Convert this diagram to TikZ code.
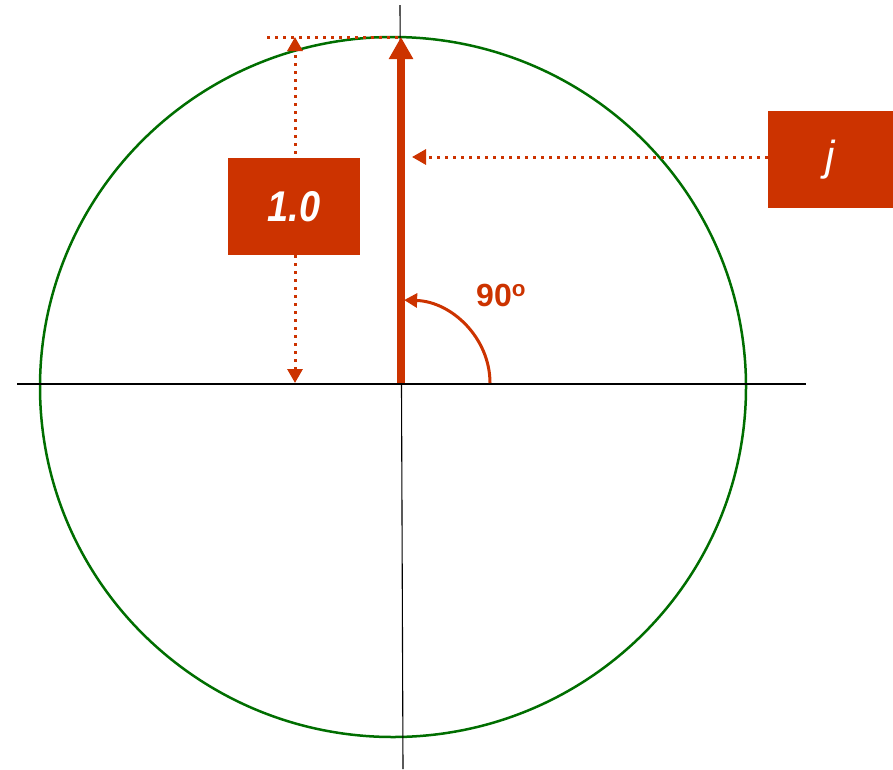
\documentclass[tikz,border=0pt]{standalone}
\usepackage{fontspec}
\setmainfont{Liberation Sans}
\usetikzlibrary{arrows.meta}
\definecolor{vred}{HTML}{CC3300}
\definecolor{cgreen}{HTML}{006E00}
\begin{document}
\begin{tikzpicture}[x=1pt,y=-1pt,
  axis/.style={black,line width=1.1pt},
  dotline/.style={vred,line width=3pt,dash pattern=on 3pt off 5pt},
  smalltip/.style={-{Triangle[width=15pt,length=14pt]}},
  labelbox/.style={fill=vred,text=white,inner sep=0pt,minimum width=#1,minimum height=97pt},
]
\useasboundingbox (0,0) rectangle (893,769);
% circle
\draw[cgreen,line width=2.5pt] (393,387) ellipse [x radius=353pt, y radius=350pt];
% axes
\coordinate (xl) at (17,384);
\coordinate (xr) at (806,384);
\coordinate (yt) at (400,5);
\coordinate (yb) at (403,769);
\draw[axis] (xl) -- (xr);
\draw[axis] (yt) -- (yb);
% key points
\coordinate (o) at (401,383);
\coordinate (top) at (401,37);
\coordinate (hl) at (267,37);
\coordinate (dtop) at (295,37);
\coordinate (dbot) at (295,383);
\coordinate (jt) at (412,157);
% dotted guide lines
\draw[dotline] (hl) -- (top);
\draw[dotline,{Triangle[width=15pt,length=14pt]}-{Triangle[width=15pt,length=14pt]}] (dbot) -- (dtop);
% boxes
\node[labelbox=132pt] (one) at (294,206.5) {\scalebox{0.88}[1]{\fontsize{43}{43}\selectfont\bfseries\itshape 1.0}};
\node[labelbox=125pt] (jbox) at (830.5,159.5) {\fontsize{42}{42}\selectfont\itshape j};
\draw[dotline,smalltip] (jbox.west |- jt) -- (jt);
% vector
\draw[vred,line width=8pt,-{Triangle[width=23pt,length=22pt]}] (o) -- (top);
% angle arc
\coordinate (as) at (490,383);
\draw[vred,line width=3pt,-{Triangle[width=14pt,length=13pt]}] (as) arc [start angle=0, end angle=88, x radius=89pt, y radius=83pt];
\node[anchor=base west,text=vred,font=\fontsize{32}{32}\selectfont\bfseries,inner sep=0pt] (ang) at (476,306) {90\textsuperscript{o}};
\end{tikzpicture}
\end{document}
